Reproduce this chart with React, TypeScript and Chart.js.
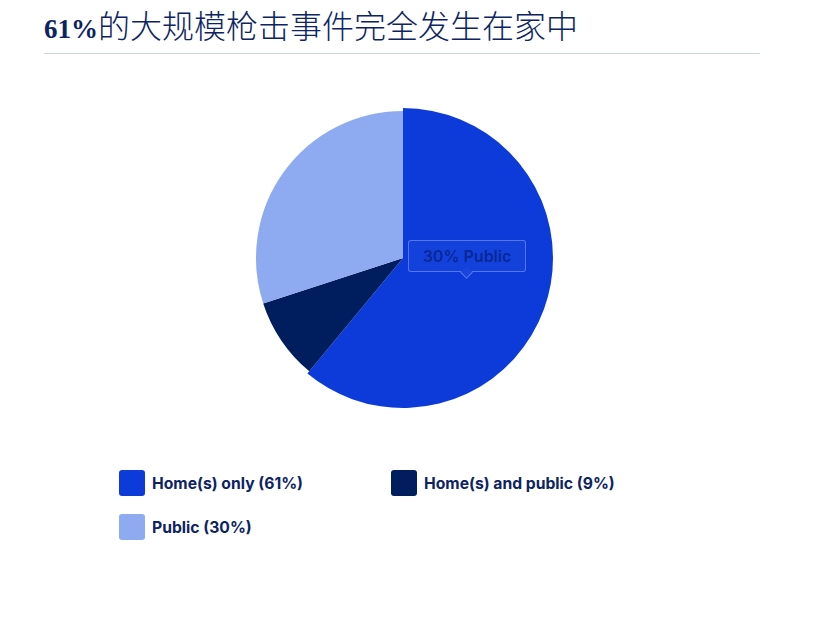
import { useEffect, useRef } from "react";
import { Chart, registerables } from "chart.js";

Chart.register(...registerables);

const categories = ["Home(s) only", "Home(s) and public", "Public"];
const shares = [61, 9, 30];
const colours = ["#0c3bd9", "#001e5e", "#8eaaf0"];
const titleBold = "61%";
const titleRest = "的大规模枪击事件完全发生在家中";
const calloutText = "30% Public";

const NAVY = "#0d2463";

// the first slice is drawn a little bigger than the rest
const growFirst = {
  id: "growFirst",
  beforeDatasetsDraw(chart: Chart) {
    const arc: any = chart.getDatasetMeta(0).data[0];
    if (arc && !arc.$grown) {
      arc.outerRadius += 3;
      arc.$grown = true;
    }
  },
};

export default function App() {
  const canvasRef = useRef<HTMLCanvasElement | null>(null);

  useEffect(() => {
    if (!canvasRef.current) return;
    const chart = new Chart(canvasRef.current, {
      type: "pie",
      data: {
        labels: categories,
        datasets: [
          {
            data: shares,
            backgroundColor: colours,
            borderWidth: 0,
            clip: false as any,
          },
        ],
      },
      options: {
        animation: false,
        responsive: false,
        layout: { padding: 13 },
        plugins: { legend: { display: false }, tooltip: { enabled: false } },
      },
      plugins: [growFirst],
    });
    return () => chart.destroy();
  }, []);

  return (
    <div
      style={{
        position: "absolute",
        left: 0,
        top: 0,
        width: 827,
        height: 617,
        background: "#fff",
        color: NAVY,
      }}
    >
      <div
        style={{
          position: "absolute",
          left: 44,
          top: 3,
          fontSize: 32,
          lineHeight: "42px",
          whiteSpace: "nowrap",
        }}
      >
        <span style={{ fontFamily: "'Liberation Serif', serif", fontWeight: 700, fontSize: 27 }}>
          {titleBold}
        </span>
        <span style={{ fontFamily: "'Noto Sans CJK SC', sans-serif", fontWeight: 300 }}>{titleRest}</span>
      </div>
      <div
        style={{
          position: "absolute",
          left: 44,
          top: 53,
          width: 716,
          height: 1,
          background: "#c9d2e3",
        }}
      />

      <canvas
        ref={canvasRef}
        width={320}
        height={320}
        style={{ position: "absolute", left: 243, top: 98, width: 320, height: 320 }}
      />

      <div
        style={{
          position: "absolute",
          left: 408,
          top: 240,
          width: 118,
          height: 32,
          boxSizing: "border-box",
          border: "1px solid rgba(140,165,245,0.55)",
          borderRadius: 3,
          background: "rgba(60,100,235,0.15)",
          color: "#0a2894",
          fontFamily: "Inter, sans-serif",
          fontSize: 16,
          fontWeight: 600,
          lineHeight: "30px",
          textAlign: "center",
        }}
      >
        {calloutText}
        <div
          style={{
            position: "absolute",
            left: 53,
            top: 27,
            width: 8,
            height: 8,
            transform: "rotate(45deg)",
            borderRight: "1px solid rgba(140,165,245,0.55)",
            borderBottom: "1px solid rgba(140,165,245,0.55)",
            background: "#1a46dc",
          }}
        />
      </div>

      {categories.map((name, i) => (
        <div
          key={name}
          style={{
            position: "absolute",
            left: 119 + (i % 2) * 272,
            top: 470 + Math.floor(i / 2) * 44,
            display: "flex",
            alignItems: "center",
            whiteSpace: "nowrap",
          }}
        >
          <div
            style={{
              width: 26,
              height: 26,
              borderRadius: 3,
              background: colours[i],
              marginRight: 7,
            }}
          />
          <span style={{ fontFamily: "Inter, sans-serif", fontWeight: 700, fontSize: 15.7 }}>
            {name} ({shares[i]}%)
          </span>
        </div>
      ))}
    </div>
  );
}
